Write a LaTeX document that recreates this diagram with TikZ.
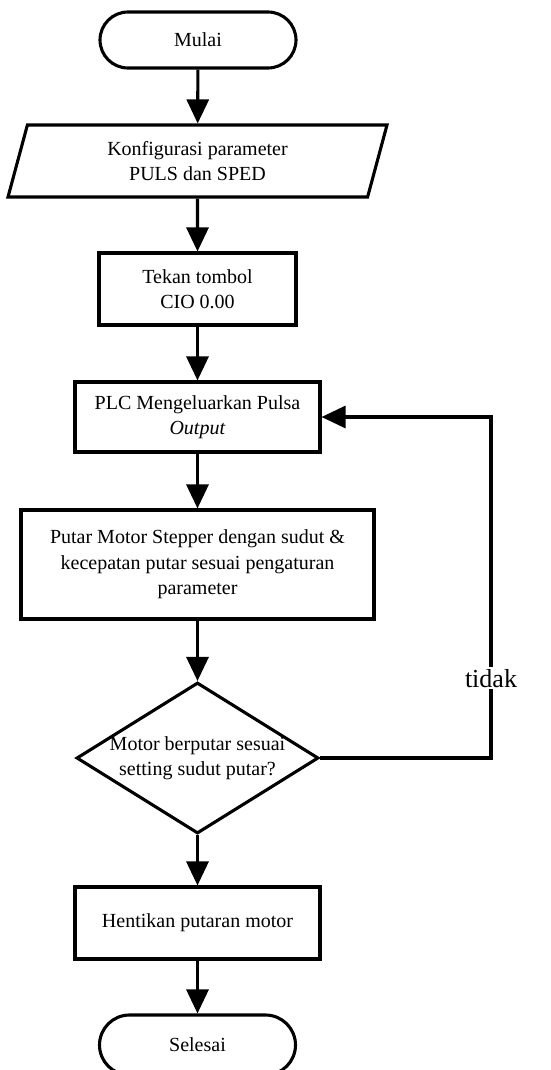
\documentclass[tikz,border=0pt]{standalone}
\usepackage{fontspec}
\setmainfont{Liberation Serif}
\usetikzlibrary{arrows.meta,shapes.geometric}

\tikzset{
  base/.style={draw,line width=3.1pt,align=center,font=\fontsize{20}{25.5}\selectfont},
  term/.style={base,rectangle,rounded corners=28pt,minimum width=196pt,minimum height=56pt},
  io/.style={base,trapezium,trapezium left angle=64,trapezium right angle=116,
    trapezium stretches body,minimum width=379pt,minimum height=72pt,inner sep=0pt},
  proc/.style={base,rectangle,minimum height=72pt},
  decision/.style={base,diamond,minimum width=242pt,minimum height=151pt,inner sep=0pt},
  arrow/.style={line width=3.1pt,-{Triangle[length=24pt,width=22pt]}}
}

\begin{document}
\begin{tikzpicture}[x=1pt,y=-1pt]
\useasboundingbox (0,0) rectangle (551,1070);

%terminals, input and process blocks

\node[term] (mulai) at (198,40) {Mulai};
\node[io] (konfig) at (197.5,161) {Konfigurasi parameter\\PULS dan SPED};
\node[proc,minimum width=197pt] (tekan) at (197.5,289) {Tekan tombol\\CIO 0.00};
\node[proc,minimum width=245pt,minimum height=70pt] (plc) at (197.5,417) {PLC Mengeluarkan Pulsa\\\textit{Output}};
\node[proc,minimum width=353pt,minimum height=109pt] (putar) at (197.5,564.5) {Putar Motor Stepper dengan sudut \&\\kecepatan putar sesuai pengaturan\\parameter};
\node[decision,label={[align=center,font=\fontsize{20}{25.5}\selectfont]center:Motor berputar sesuai\\setting sudut putar?}] (cek) at (197.5,758) {};
\node[proc,minimum width=245pt] (henti) at (197.5,923) {Hentikan putaran motor};
\node[term,minimum height=60pt,rounded corners=30pt] (selesai) at (197.5,1045) {Selesai};

%main flow

\draw[arrow] (mulai) -- (konfig);
\draw[arrow] (konfig) -- (tekan);
\draw[arrow] (tekan) -- (plc);
\draw[arrow] (plc) -- (putar);
\draw[arrow] (putar) -- (cek);
\draw[arrow] (cek) -- (henti);
\draw[arrow] (henti) -- (selesai);

%loop back when the angle is not reached

\coordinate (balik) at (491,417);
\draw[arrow] (cek.east) -| (balik) node[pos=0.617,fill=white,inner sep=2pt,font=\fontsize{26}{28}\selectfont] (tidak) {tidak} -- (plc.east);
\end{tikzpicture}
\end{document}
